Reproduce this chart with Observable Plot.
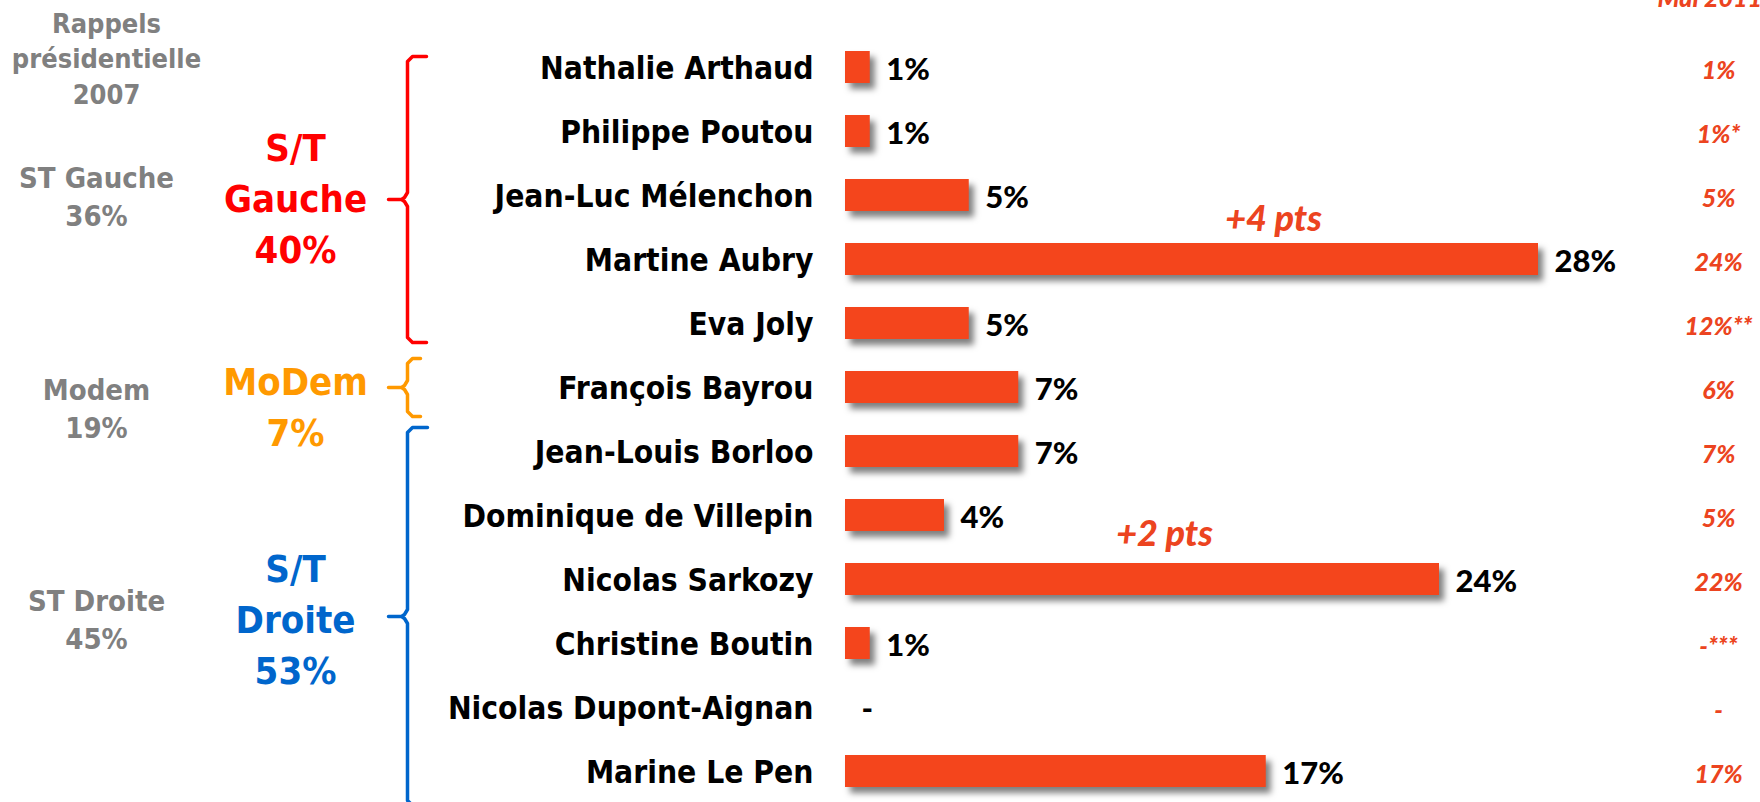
<!DOCTYPE html>
<html><head><meta charset="utf-8">
<script src="https://cdn.jsdelivr.net/npm/d3@7"></script>
<script src="https://cdn.jsdelivr.net/npm/@observablehq/plot@0.6"></script>
<style>
html,body{margin:0;padding:0;background:#fff;overflow:hidden;}
#chart svg g[aria-label="rect"]{filter:drop-shadow(5px 6px 3px rgba(0,0,0,0.5));}
</style></head><body><div id="chart"></div>
<script>
// ---- data ----
const candidates = ["Nathalie Arthaud","Philippe Poutou","Jean-Luc Mélenchon","Martine Aubry","Eva Joly","François Bayrou","Jean-Louis Borloo","Dominique de Villepin","Nicolas Sarkozy","Christine Boutin","Nicolas Dupont-Aignan","Marine Le Pen"];
const scores = [1,1,5,28,5,7,7,4,24,1,0,17];
const scoreLabels = ["1%","1%","5%","28%","5%","7%","7%","4%","24%","1%","-","17%"];
const mai2011Header = "Mai 2011";
const mai2011Labels = ["1%","1%*","5%","24%","12%**","6%","7%","5%","22%","-***","-","17%"];
const groupNames = ["S/T\nGauche\n40%","MoDem\n7%","S/T\nDroite\n53%"];
const recallTitle = "Rappels\nprésidentielle\n2007";
const recallLabels = ["ST Gauche\n36%","Modem\n19%","ST Droite\n45%"];
const evolutionLabels = ["+4 pts","+2 pts"];
const evolutionRows = [3, 8];

// ---- layout & style ----
const BAR = "#f4451c", RED_I = "#ec4420", GRAY = "#808080";
const groupColors = ["#ff0000","#ff9900","#0066cc"];
const FT = "'DejaVu Sans Condensed','DejaVu Sans',sans-serif";
const FC = "Lato,'Open Sans',sans-serif";
const PXU = 24.75, X0 = 845, ROW0 = 67, ROWH = 64;
const px = p => (p - X0) / PXU;
const py = p => (p - ROW0) / ROWH;
const braceTop = [56, 358, 427], braceBot = [342, 416, 805], braceHook = [426, 420, 427];
const groupBaseline = [262, 445, 683];
const recallBaseline = [225, 437, 648];
const evoX = [1273, 1164], evoBaseline = [230, 545];

const idx = candidates.map((_, i) => i);

function bracePts(k) {
  const top = braceTop[k], bot = braceBot[k], m = (top + bot) / 2, xv = 407, xh = braceHook[k], xt = 388, r = 5;
  return [[xh,top],[xv+r,top],[xv,top+r],[xv,m-7],[xv-3,m-2],[xv-6,m],[xt,m],[xv-6,m],[xv-3,m+2],[xv,m+7],[xv,bot-r],[xv+r,bot],[xh,bot]]
    .map(([x, y]) => ({x: px(x), y: py(y)}));
}

const marks = [
  Plot.rect(idx, {x1: 0, x2: i => scores[i], y1: i => i - 0.25, y2: i => i + 0.25, fill: BAR}),
  Plot.text(idx, {x: 0, y: i => i, text: i => candidates[i], textAnchor: "end", dx: -32, dy: 1,
    fontFamily: FT, fontWeight: "bold", fontSize: 31.5, fill: "#000"}),
  Plot.text(idx, {x: i => scores[i], y: i => i, text: i => scoreLabels[i], textAnchor: "start", dx: 16, dy: 3,
    fontFamily: FC, fontWeight: 900, fontSize: 31, fill: "#000"}),
  Plot.text(idx, {x: px(1718), y: i => i, text: i => mai2011Labels[i], textAnchor: "middle", dy: 3,
    fontFamily: FC, fontWeight: 900, fontStyle: "italic", fontSize: 25, fill: RED_I}),
  Plot.text([mai2011Header], {x: px(1657), y: py(6), text: d => d, textAnchor: "start", lineAnchor: "bottom",
    fontFamily: FC, fontWeight: 900, fontStyle: "italic", fontSize: 25, fill: RED_I}),
  Plot.text(evolutionLabels, {x: (d, i) => px(evoX[i]), y: (d, i) => py(evoBaseline[i]), text: d => d, textAnchor: "middle", lineAnchor: "bottom",
    fontFamily: FC, fontWeight: 900, fontStyle: "italic", fontSize: 36, fill: RED_I}),
  Plot.text([recallTitle], {x: px(106), y: py(103), text: d => d, textAnchor: "middle", lineAnchor: "bottom", lineHeight: 1.3,
    fontFamily: FT, fontWeight: "bold", fontSize: 27, fill: GRAY}),
  Plot.text(recallLabels, {x: px(96), y: (d, i) => py(recallBaseline[i]), text: d => d, textAnchor: "middle", lineAnchor: "bottom", lineHeight: 1.3,
    fontFamily: FT, fontWeight: "bold", fontSize: 29, fill: GRAY}),
  Plot.text(groupNames, {x: px(295), y: (d, i) => py(groupBaseline[i]), text: d => d, textAnchor: "middle", lineAnchor: "bottom", lineHeight: 1.34,
    fontFamily: FT, fontWeight: "bold", fontSize: 38, fill: (d, i) => groupColors[i]}),
  ...groupNames.map((g, k) => Plot.line(bracePts(k), {x: "x", y: "y", stroke: groupColors[k], strokeWidth: 3.5,
    strokeLinejoin: "round", strokeLinecap: "round", curve: "linear"}))
];

const chart = Plot.plot({
  width: 1760, height: 802,
  marginTop: 0, marginBottom: 0, marginLeft: 0, marginRight: 0,
  x: {domain: [px(0), px(1760)], range: [0, 1760], axis: null},
  y: {domain: [0, 11], range: [ROW0, ROW0 + 11 * ROWH], axis: null},
  color: {type: "identity"},
  style: {background: "#fff", fontFamily: FT},
  marks
});
document.getElementById("chart").appendChild(chart);
</script></body></html>
